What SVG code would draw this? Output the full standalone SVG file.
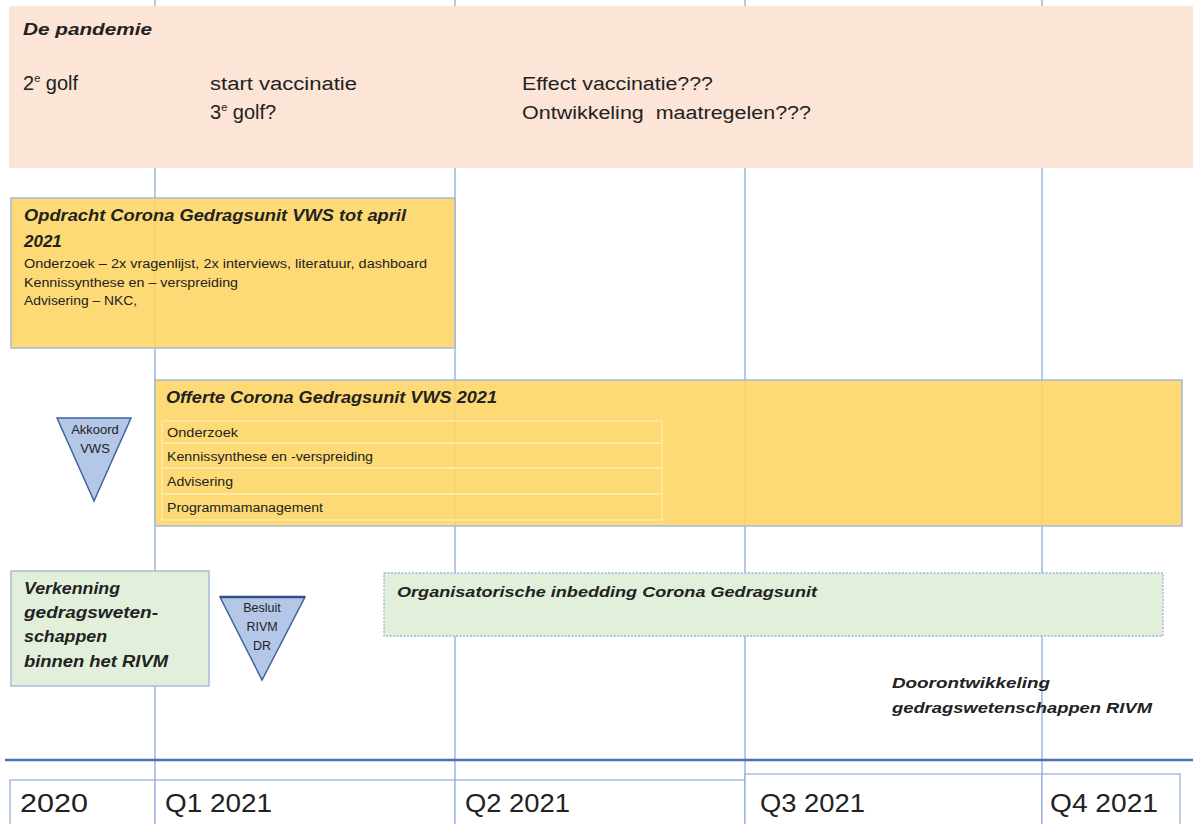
<svg xmlns="http://www.w3.org/2000/svg" width="1193" height="824" viewBox="0 0 1193 824">
<style>
.t{font-family:"Liberation Sans",Arial,sans-serif;fill:#222}
.bi{font-weight:bold;font-style:italic}
.grid{stroke:#8faadc;stroke-width:1.3}
.yel{fill:#fdd562;fill-opacity:0.88;stroke:#a9b8d0;stroke-width:1.5}
.grn{fill:#e2efda;stroke:#9db3d6;stroke-width:1.3}
.tri{fill:#b4c7e7;stroke:#3f63a0;stroke-width:1.5}
.row{fill:none;stroke:#ffeaa8;stroke-width:1.5}
.cell{fill:#fff;stroke:#8faadc;stroke-width:1.2}
</style>
<rect width="1193" height="824" fill="#fff"/>
<g id="gridlines">
<line class="grid" x1="155" y1="0" x2="155" y2="824"/>
<line class="grid" x1="455" y1="0" x2="455" y2="824"/>
<line class="grid" x1="745" y1="0" x2="745" y2="824"/>
<line class="grid" x1="1042" y1="0" x2="1042" y2="824"/>
</g>
<g id="pandemie">
<rect x="9" y="6" width="1184" height="162" fill="#fce4d6"/>
<text class="t bi" x="23" y="35" font-size="17" textLength="129" lengthAdjust="spacingAndGlyphs">De pandemie</text>
<text class="t" x="23" y="90" font-size="20">2<tspan font-size="11" dy="-8">e</tspan><tspan dy="8"> golf</tspan></text>
<text class="t" x="210" y="90" font-size="18" textLength="147" lengthAdjust="spacingAndGlyphs">start vaccinatie</text>
<text class="t" x="210" y="119" font-size="20">3<tspan font-size="11" dy="-8">e</tspan><tspan dy="8"> golf?</tspan></text>
<text class="t" x="522" y="90" font-size="18" textLength="191" lengthAdjust="spacingAndGlyphs">Effect vaccinatie???</text>
<text class="t" x="522" y="119" font-size="18" textLength="289" lengthAdjust="spacingAndGlyphs" xml:space="preserve">Ontwikkeling  maatregelen???</text>
</g>
<g id="opdracht">
<rect class="yel" x="11" y="198" width="444" height="150"/>
<text class="t bi" x="24" y="221" font-size="17" textLength="382" lengthAdjust="spacingAndGlyphs">Opdracht Corona Gedragsunit VWS tot april</text>
<text class="t bi" x="24" y="247" font-size="17">2021</text>
<text class="t" x="24" y="268" font-size="12" textLength="403" lengthAdjust="spacingAndGlyphs">Onderzoek – 2x vragenlijst, 2x interviews, literatuur, dashboard</text>
<text class="t" x="24" y="287" font-size="12" textLength="214" lengthAdjust="spacingAndGlyphs">Kennissynthese en – verspreiding</text>
<text class="t" x="24" y="305" font-size="12" textLength="113" lengthAdjust="spacingAndGlyphs">Advisering – NKC,</text>
</g>
<g id="offerte">
<rect class="yel" x="155" y="380" width="1027" height="146"/>
<text class="t bi" x="166" y="403" font-size="17" textLength="331" lengthAdjust="spacingAndGlyphs">Offerte Corona Gedragsunit VWS 2021</text>
<rect class="row" x="162" y="421" width="500" height="22"/>
<rect class="row" x="162" y="443" width="500" height="25"/>
<rect class="row" x="162" y="468" width="500" height="26"/>
<rect class="row" x="162" y="494" width="500" height="26"/>
<text class="t" x="167" y="437" font-size="12" textLength="71" lengthAdjust="spacingAndGlyphs">Onderzoek</text>
<text class="t" x="167" y="461" font-size="12" textLength="206" lengthAdjust="spacingAndGlyphs">Kennissynthese en -verspreiding</text>
<text class="t" x="167" y="486" font-size="12" textLength="66" lengthAdjust="spacingAndGlyphs">Advisering</text>
<text class="t" x="167" y="512" font-size="12" textLength="156" lengthAdjust="spacingAndGlyphs">Programmamanagement</text>
</g>
<g id="akkoord">
<polygon class="tri" points="57,418 131,418 94,501"/>
<text class="t" x="95" y="434" font-size="13" text-anchor="middle" fill="#333">Akkoord</text>
<text class="t" x="95" y="453" font-size="13" text-anchor="middle" fill="#333">VWS</text>
</g>
<g id="verkenning">
<rect class="grn" x="11" y="571" width="198" height="115"/>
<text class="t bi" x="24" y="594" font-size="16" textLength="96" lengthAdjust="spacingAndGlyphs">Verkenning</text>
<text class="t bi" x="24" y="618" font-size="16" textLength="134" lengthAdjust="spacingAndGlyphs">gedragsweten-</text>
<text class="t bi" x="24" y="642" font-size="16" textLength="83" lengthAdjust="spacingAndGlyphs">schappen</text>
<text class="t bi" x="24" y="667" font-size="16" textLength="144" lengthAdjust="spacingAndGlyphs">binnen het RIVM</text>
</g>
<g id="besluit">
<polygon class="tri" points="220,597 305,597 262,680"/>
<line x1="220" y1="597" x2="305" y2="597" stroke="#2f4f85" stroke-width="2.5"/>
<text class="t" x="262" y="612" font-size="12.5" text-anchor="middle" fill="#333">Besluit</text>
<text class="t" x="262" y="631" font-size="12.5" text-anchor="middle" fill="#333">RIVM</text>
<text class="t" x="262" y="650" font-size="12.5" text-anchor="middle" fill="#333">DR</text>
</g>
<g id="organisatorische">
<rect class="grn" x="384" y="573" width="779" height="63" stroke-dasharray="2,1.5"/>
<text class="t bi" x="397" y="597" font-size="15" textLength="420" lengthAdjust="spacingAndGlyphs">Organisatorische inbedding Corona Gedragsunit</text>
</g>
<g id="doorontwikkeling">
<text class="t bi" x="892" y="688" font-size="15" textLength="158" lengthAdjust="spacingAndGlyphs">Doorontwikkeling</text>
<text class="t bi" x="892" y="713" font-size="15" textLength="260" lengthAdjust="spacingAndGlyphs">gedragswetenschappen RIVM</text>
</g>
<g id="axis">
<line x1="5" y1="760" x2="1193" y2="760" stroke="#4a72b8" stroke-width="2.5"/>
<rect class="cell" x="10" y="780" width="145" height="60"/>
<rect class="cell" x="155" y="780" width="300" height="60"/>
<rect class="cell" x="455" y="780" width="290" height="60"/>
<rect class="cell" x="745" y="774" width="297" height="66"/>
<rect class="cell" x="1042" y="774" width="138" height="66"/>
<text class="t" x="20" y="812" font-size="25" textLength="68" lengthAdjust="spacingAndGlyphs">2020</text>
<text class="t" x="165" y="812" font-size="25" textLength="107" lengthAdjust="spacingAndGlyphs">Q1 2021</text>
<text class="t" x="465" y="812" font-size="25" textLength="105" lengthAdjust="spacingAndGlyphs">Q2 2021</text>
<text class="t" x="760" y="812" font-size="25" textLength="105" lengthAdjust="spacingAndGlyphs">Q3 2021</text>
<text class="t" x="1050" y="812" font-size="25" textLength="108" lengthAdjust="spacingAndGlyphs">Q4 2021</text>
</g>
</svg>
